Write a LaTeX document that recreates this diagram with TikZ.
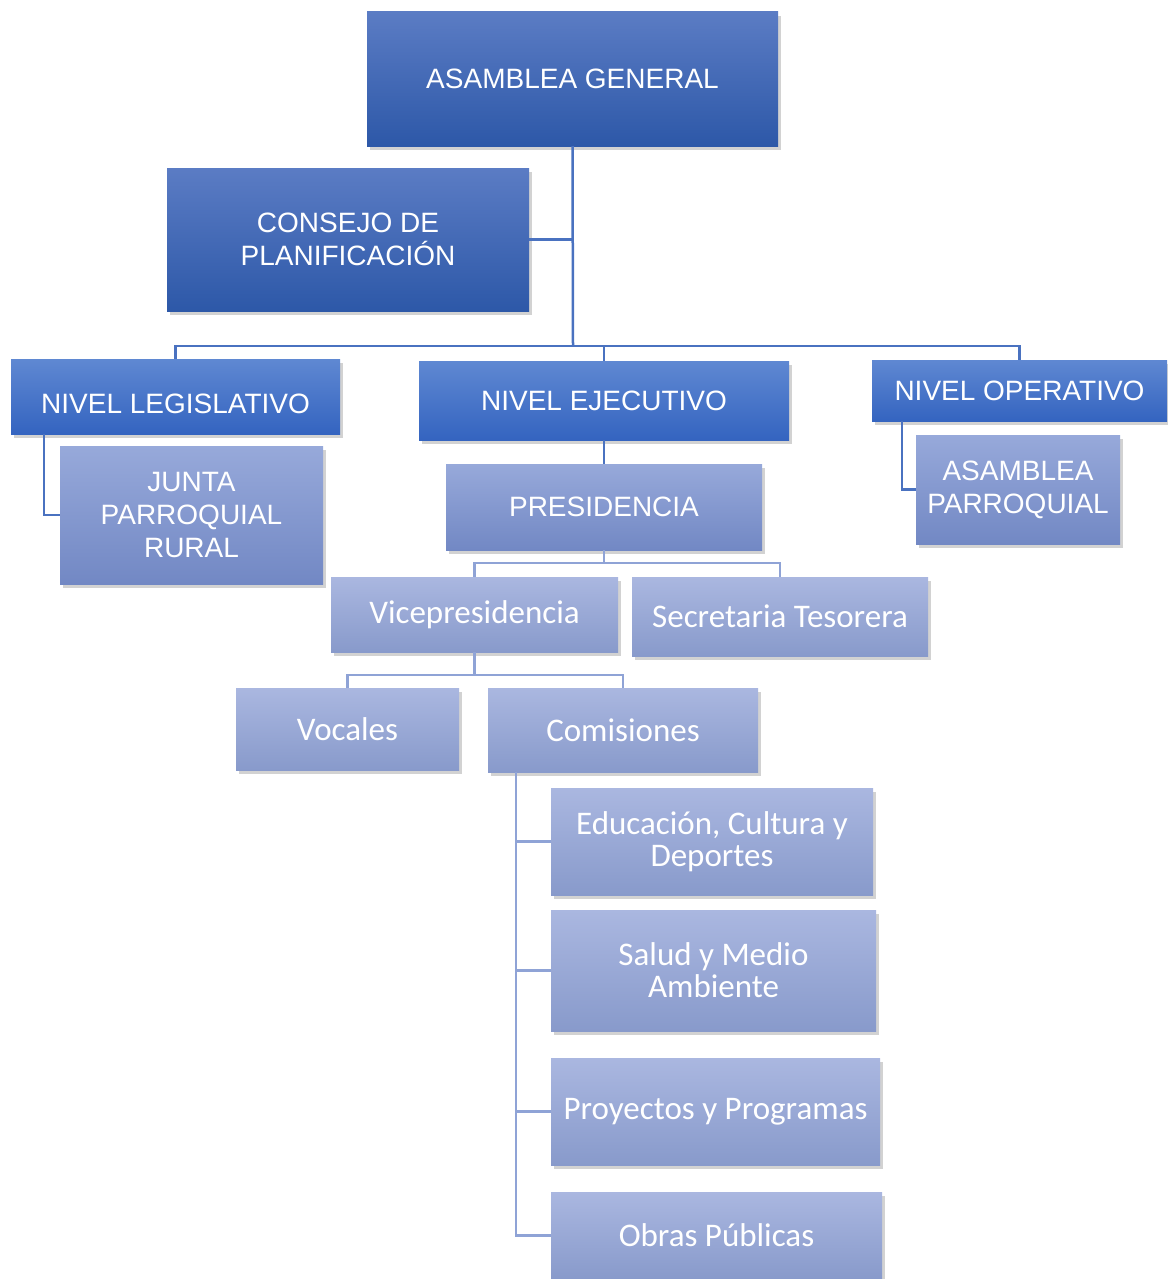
\documentclass[tikz,border=0pt]{standalone}
\usepackage{fontspec}
\setmainfont{Liberation Sans}
\newfontfamily\boxfont{Carlito}
\usepackage{tikz}
\usetikzlibrary{positioning,shadows,calc}
\definecolor{deeptop}{HTML}{5B7CC4}
\definecolor{deepbot}{HTML}{2D58A8}
\definecolor{midtop}{HTML}{5F88D2}
\definecolor{midbot}{HTML}{3464C0}
\definecolor{paletop}{HTML}{97A9DA}
\definecolor{palebot}{HTML}{7288C4}
\definecolor{softtop}{HTML}{AAB7E0}
\definecolor{softbot}{HTML}{889ACB}
\definecolor{deepline}{HTML}{4A72C0}
\definecolor{paleline}{HTML}{8FA3D6}
\tikzset{
    orgbox/.style={
        rectangle,
        inner sep=0pt,
        align=center,
        text=white,
        drop shadow={opacity=0.35, shadow xshift=3pt, shadow yshift=-4pt}
    },
    topbox/.style={
        orgbox,
        top color=deeptop,
        bottom color=deepbot,
        font=\fontsize{28}{33}\selectfont
    },
    levelbox/.style={
        orgbox,
        top color=midtop,
        bottom color=midbot,
        font=\fontsize{28}{33}\selectfont
    },
    subbox/.style={
        orgbox,
        top color=paletop,
        bottom color=palebot,
        font=\fontsize{28}{33}\selectfont
    },
    unitbox/.style={
        orgbox,
        top color=softtop,
        bottom color=softbot,
        font=\boxfont\fontsize{33}{32}\selectfont
    },
    deeplink/.style={draw=deepline, line width=2.5pt},
    palelink/.style={draw=paleline, line width=2.5pt}
}

\begin{document}
\begin{tikzpicture}[x=1pt,y=-1pt]

\useasboundingbox[fill=white] (0,0) rectangle (1167,1279);

% Top level
\node[topbox, minimum width=411pt, minimum height=134pt] (ag) at (572.5,79) {ASAMBLEA GENERAL};
\node[topbox, minimum width=362pt, minimum height=143pt] (cp) at (348,239.5) {CONSEJO DE\\PLANIFICACIÓN};

% Levels
\node[levelbox, minimum width=329pt, minimum height=75pt, text height=34pt, text depth=0pt] (nl) at (175.5,396.5) {NIVEL LEGISLATIVO};
\node[levelbox, minimum width=370pt, minimum height=79pt] (ne) at (604,400.5) {NIVEL EJECUTIVO};
\node[levelbox, minimum width=295pt, minimum height=61pt] (no) at (1019.5,390.5) {NIVEL OPERATIVO};

% Under each level
\node[subbox, minimum width=263pt, minimum height=138pt] (jr) at (191.5,515) {JUNTA\\PARROQUIAL\\RURAL};
\node[subbox, minimum width=316pt, minimum height=86pt] (pr) at (604,507) {PRESIDENCIA};
\node[subbox, minimum width=204pt, minimum height=109pt] (ap) at (1018,489.5) {ASAMBLEA\\PARROQUIAL};

% Executive units
\node[unitbox, minimum width=287pt, minimum height=75pt] (vp) at (474.5,614.5) {Vicepresidencia};
\node[unitbox, minimum width=296pt, minimum height=79pt] (st) at (780,616.5) {Secretaria Tesorera};
\node[unitbox, minimum width=223pt, minimum height=82pt] (vo) at (347.5,729) {Vocales};
\node[unitbox, minimum width=270pt, minimum height=84pt] (co) at (623,730) {Comisiones};

% Comisiones
\node[unitbox, minimum width=322pt, minimum height=107pt] (ed) at (712,841.5) {Educación, Cultura y\\Deportes};
\node[unitbox, minimum width=325pt, minimum height=121pt] (sa) at (713.5,970.5) {Salud y Medio\\Ambiente};
\node[unitbox, minimum width=329pt, minimum height=107pt] (py) at (715.5,1111.5) {Proyectos y Programas};
\node[unitbox, minimum width=331pt, minimum height=87pt] (op) at (716.5,1235.5) {Obras Públicas};

% Upper connectors
\coordinate (bus) at (573,346);
\draw[deeplink] (ag.south) -- (bus);
\draw[deeplink] (cp.east) -- (ag.south |- cp.east);
\draw[deeplink] (nl.north) |- (bus) -| (no.north);
\draw[deeplink] (bus -| ne.north) -- (ne.north);
\draw[deeplink] ([xshift=33pt]nl.south west) |- (jr.west);
\draw[deeplink] ([xshift=30pt]no.south west) |- (ap.west);
\draw[deeplink] (ne.south) -- (pr.north);

% Lower connectors
\coordinate (pv) at (604,563);
\draw[palelink] (pr.south) -- (pv) -| (vp.north);
\draw[palelink] (pv) -| (st.north);
\coordinate (vc) at (474.5,675);
\draw[palelink] (vp.south) -- (vc) -| (vo.north);
\draw[palelink] (vc) -| (co.north);
\foreach \n in {ed,sa,py,op}
    \draw[palelink] ([xshift=28pt]co.south west) |- (\n.west);

\end{tikzpicture}
\end{document}
